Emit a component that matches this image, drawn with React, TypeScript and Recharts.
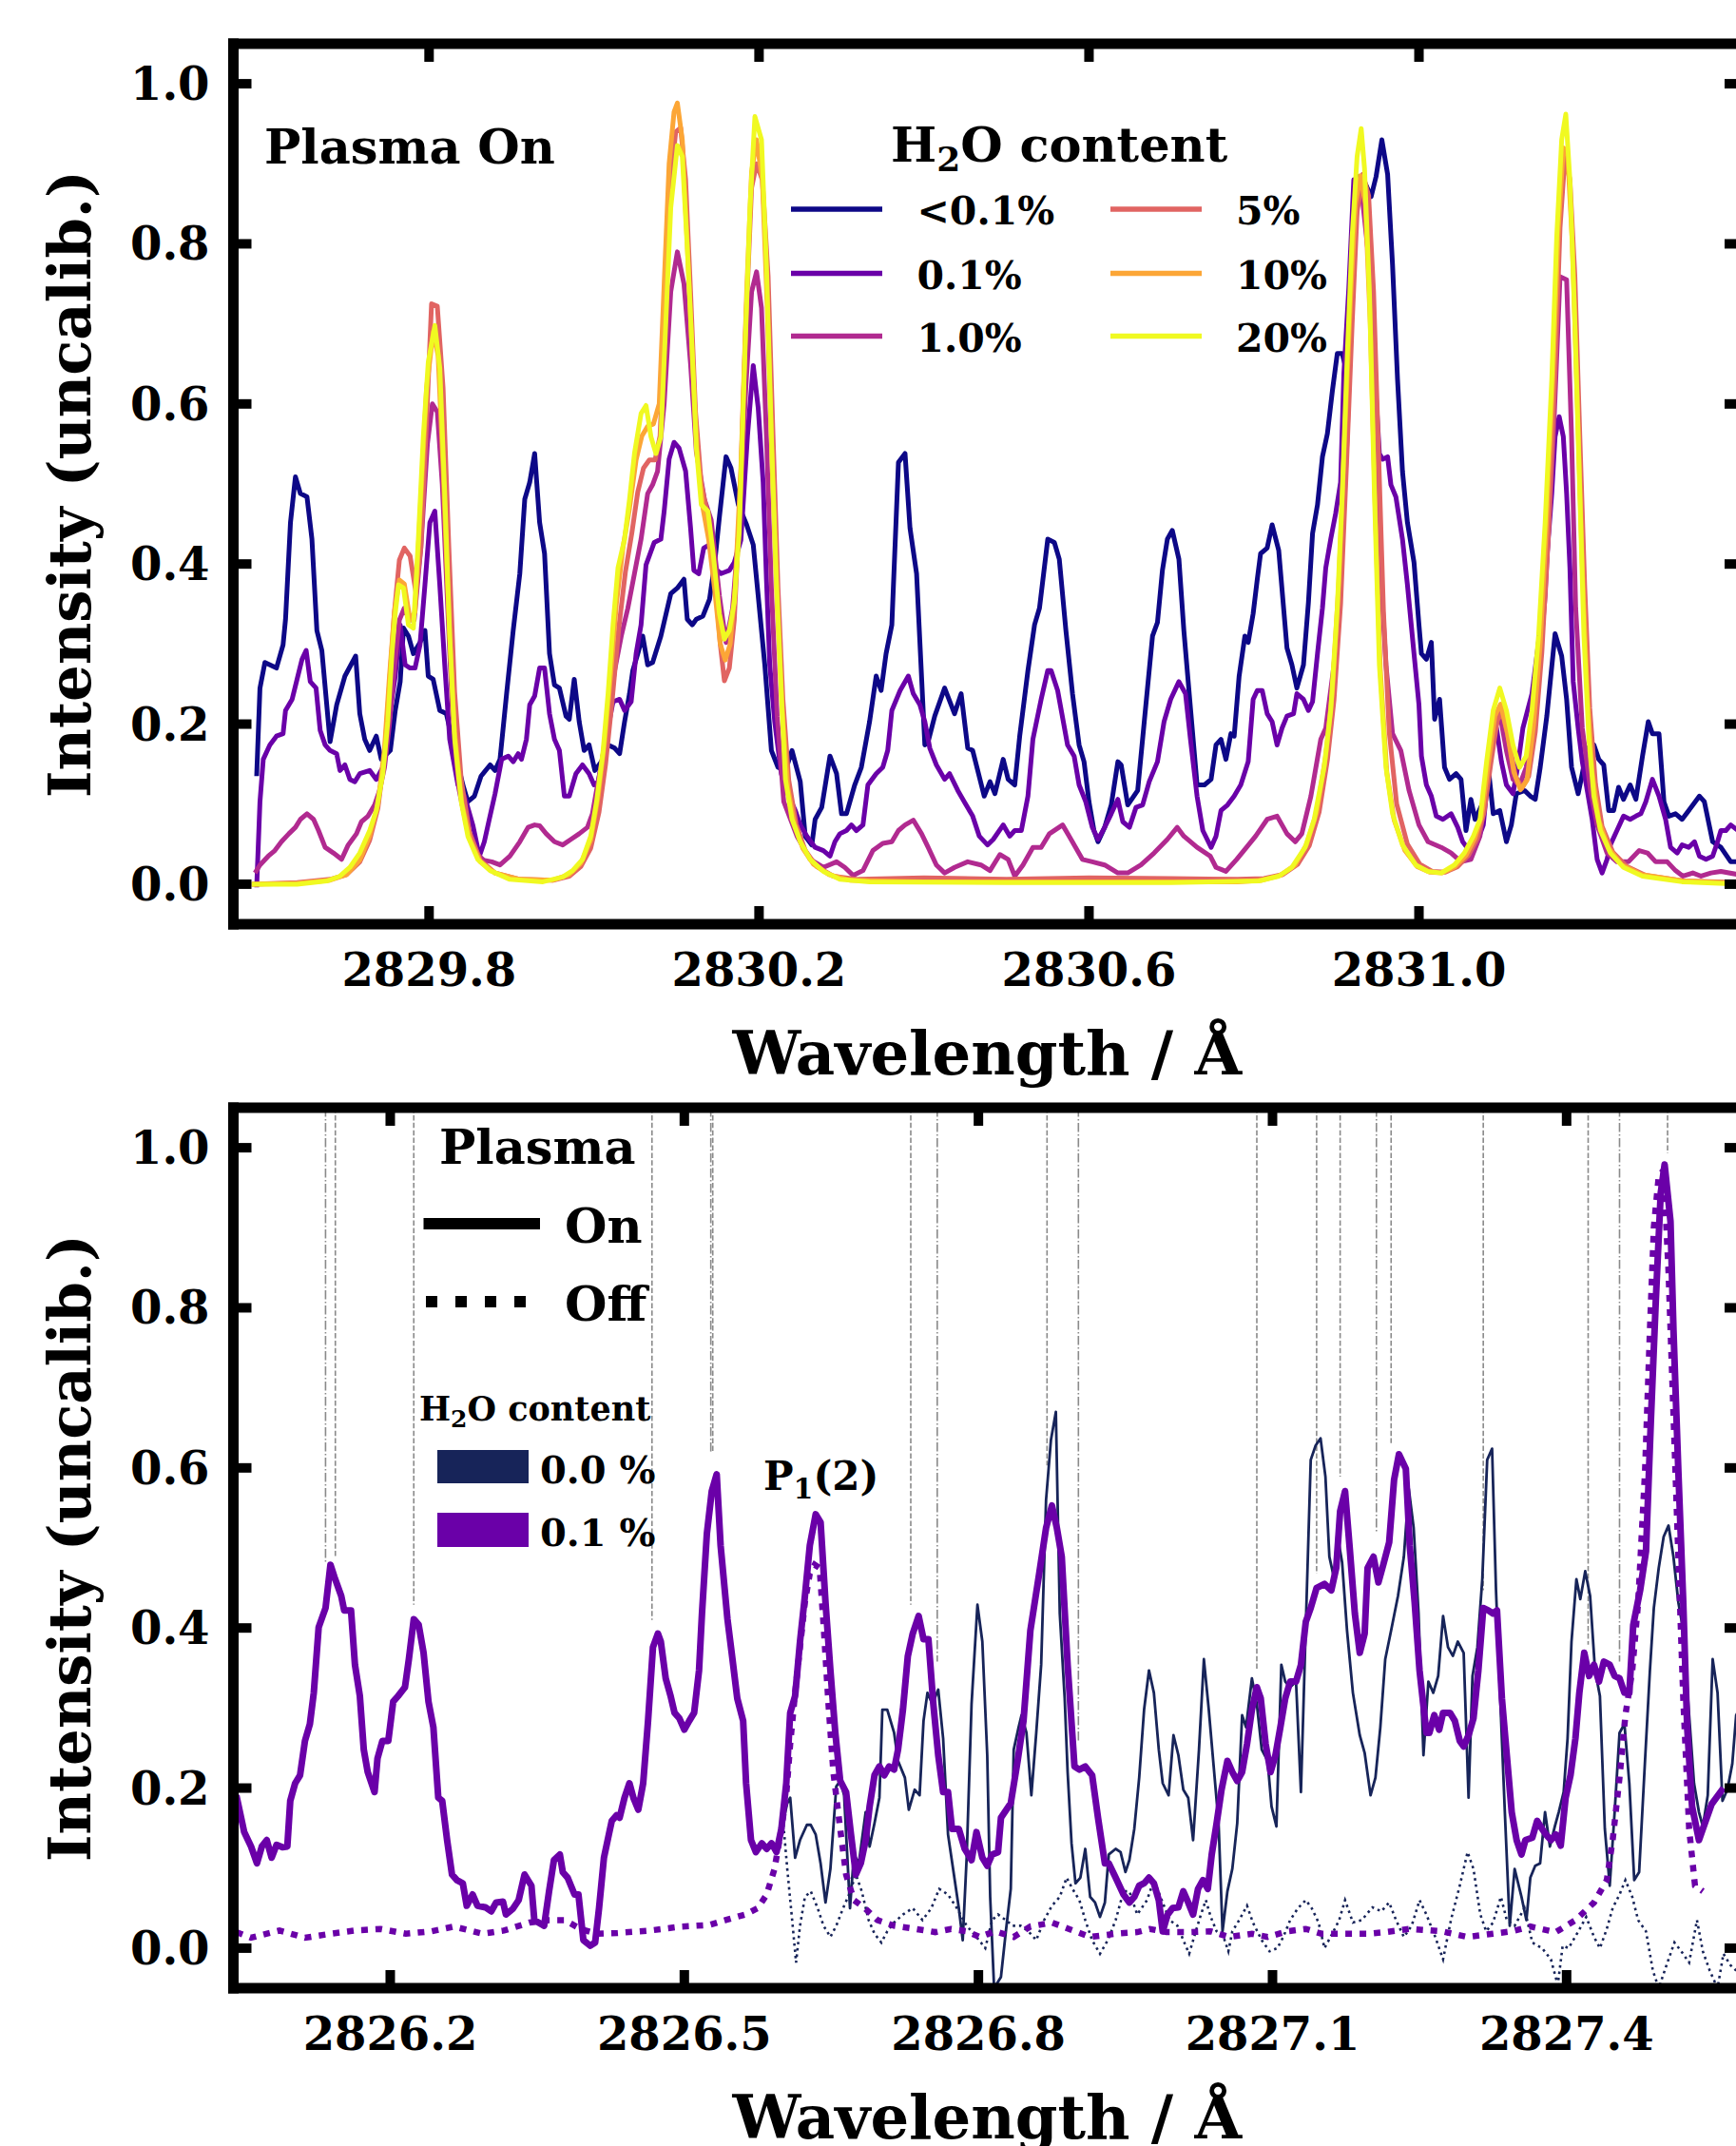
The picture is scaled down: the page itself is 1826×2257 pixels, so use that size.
import React from "react";
import { LineChart, Line, XAxis, YAxis, ReferenceLine, Legend, Customized } from "recharts";

type Pt = [number, number];

// ---------- axes ----------
const topWlTicks = [2829.8, 2830.2, 2830.6, 2831.0];
const bottomWlTicks = [2826.2, 2826.5, 2826.8, 2827.1, 2827.4];
const intensityTicks = [0, 0.2, 0.4, 0.6, 0.8, 1.0];
const TOP_DOMAIN: [number, number] = [2829.5628, 2831.3924];
const BOTTOM_DOMAIN: [number, number] = [2826.04, 2827.5796];
const Y_DOMAIN: [number, number] = [-0.05, 1.05];

// ---------- top panel: plasma on, varying H2O content ----------
const topSeriesNames = ["<0.1%", "0.1%", "1.0%", "5%", "10%", "20%"];
const topColors = ["#0d0887", "#6a00a8", "#b12a90", "#e16462", "#fca636", "#f0f921"];

const onLt01: Pt[] = [
  [2829.591,0.135],[2829.595,0.245],[2829.601,0.277],[2829.615,0.270],[2829.623,0.299],[2829.626,0.331],[2829.632,0.452],[2829.638,0.509],[2829.644,0.488],[2829.652,0.484],[2829.658,0.431],[2829.664,0.317],[2829.670,0.292],[2829.680,0.178],[2829.688,0.224],[2829.698,0.260],[2829.711,0.285],[2829.716,0.213],[2829.722,0.181],[2829.728,0.167],[2829.736,0.185],[2829.742,0.156],[2829.753,0.167],[2829.759,0.217],[2829.765,0.253],[2829.769,0.320],[2829.775,0.310],[2829.781,0.288],[2829.789,0.302],[2829.795,0.317],[2829.799,0.260],[2829.805,0.256],[2829.813,0.217],[2829.821,0.213],[2829.831,0.167],[2829.841,0.124],[2829.847,0.103],[2829.855,0.110],[2829.863,0.135],[2829.874,0.149],[2829.880,0.142],[2829.886,0.156],[2829.894,0.238],[2829.902,0.317],[2829.910,0.388],[2829.916,0.481],[2829.922,0.502],[2829.928,0.538],[2829.934,0.452],[2829.940,0.413],[2829.946,0.288],[2829.952,0.249],[2829.958,0.245],[2829.966,0.210],[2829.970,0.206],[2829.976,0.256],[2829.982,0.203],[2829.988,0.167],[2829.994,0.174],[2830.001,0.142],[2830.009,0.153],[2830.017,0.174],[2830.025,0.170],[2830.031,0.163],[2830.037,0.203],[2830.043,0.238],[2830.047,0.267],[2830.053,0.288],[2830.059,0.310],[2830.065,0.274],[2830.071,0.277],[2830.081,0.310],[2830.093,0.363],[2830.101,0.370],[2830.109,0.381],[2830.113,0.331],[2830.119,0.324],[2830.124,0.331],[2830.132,0.335],[2830.140,0.356],[2830.146,0.399],[2830.152,0.459],[2830.160,0.534],[2830.166,0.520],[2830.175,0.474],
  [2830.185,0.449],[2830.193,0.424],[2830.199,0.360],[2830.207,0.274],[2830.215,0.167],[2830.223,0.146],[2830.232,0.142],[2830.240,0.167],[2830.250,0.128],[2830.256,0.060],[2830.264,0.049],[2830.268,0.081],[2830.276,0.096],[2830.286,0.160],[2830.294,0.138],[2830.300,0.088],[2830.306,0.088],[2830.316,0.124],[2830.324,0.146],[2830.334,0.203],[2830.342,0.260],[2830.348,0.242],[2830.354,0.288],[2830.361,0.324],[2830.369,0.527],[2830.377,0.538],[2830.383,0.445],[2830.391,0.388],[2830.401,0.174],[2830.405,0.178],[2830.413,0.210],[2830.425,0.245],[2830.437,0.213],[2830.445,0.238],[2830.453,0.170],[2830.459,0.167],[2830.473,0.110],[2830.480,0.128],[2830.486,0.113],[2830.496,0.156],[2830.502,0.131],[2830.510,0.124],[2830.516,0.185],[2830.526,0.267],[2830.534,0.324],[2830.540,0.345],[2830.550,0.431],[2830.558,0.427],[2830.564,0.406],[2830.572,0.317],[2830.580,0.238],[2830.588,0.174],[2830.594,0.153],[2830.600,0.103],[2830.606,0.067],[2830.611,0.053],[2830.619,0.071],[2830.627,0.099],[2830.635,0.153],[2830.639,0.149],[2830.647,0.099],[2830.659,0.117],[2830.667,0.203],[2830.677,0.310],[2830.683,0.327],[2830.689,0.392],[2830.695,0.431],[2830.701,0.442],[2830.709,0.406],[2830.715,0.317],[2830.723,0.220],[2830.731,0.124],[2830.740,0.124],[2830.748,0.131],[2830.754,0.174],[2830.760,0.181],[2830.766,0.156],[2830.772,0.188],[2830.776,0.185],[2830.782,0.260],[2830.789,0.310],
  [2830.793,0.302],[2830.799,0.338],[2830.804,0.381],[2830.808,0.413],[2830.816,0.420],[2830.822,0.449],[2830.830,0.417],[2830.840,0.295],[2830.846,0.274],[2830.852,0.245],[2830.860,0.274],[2830.866,0.352],[2830.871,0.438],[2830.877,0.474],[2830.883,0.534],[2830.889,0.563],[2830.895,0.616],[2830.901,0.663],[2830.907,0.663],[2830.913,0.638],[2830.919,0.780],[2830.925,0.884],[2830.931,0.884],[2830.936,0.873],[2830.942,0.859],[2830.948,0.884],[2830.955,0.930],[2830.962,0.887],[2830.968,0.773],[2830.974,0.631],[2830.980,0.516],[2830.986,0.452],[2830.994,0.402],[2831.000,0.324],[2831.003,0.288],[2831.009,0.281],[2831.015,0.302],[2831.019,0.206],[2831.025,0.231],[2831.031,0.146],[2831.037,0.131],[2831.045,0.138],[2831.051,0.131],[2831.057,0.067],[2831.063,0.106],[2831.068,0.081],[2831.078,0.103],[2831.084,0.146],[2831.090,0.088],[2831.098,0.092],[2831.106,0.053],[2831.112,0.074],[2831.118,0.113],[2831.128,0.117],[2831.135,0.110],[2831.141,0.106],[2831.147,0.146],[2831.155,0.210],[2831.165,0.313],[2831.173,0.285],[2831.179,0.231],[2831.185,0.146],[2831.193,0.113],[2831.198,0.138],[2831.204,0.170],[2831.212,0.174],[2831.218,0.156],[2831.224,0.149],[2831.230,0.092],[2831.236,0.092],[2831.242,0.121],[2831.248,0.106],[2831.256,0.124],[2831.263,0.106],[2831.271,0.160],[2831.278,0.203],[2831.283,0.188],[2831.291,0.188],[2831.297,0.103],[2831.303,0.085],[2831.311,0.088],[2831.319,0.081],[2831.330,0.096],[2831.340,0.110],[2831.346,0.103],[2831.356,0.053],[2831.366,0.046],[2831.378,0.028],[2831.392,0.028],
];

const on01: Pt[] = [
  [2829.591,-0.004],[2829.595,0.103],[2829.599,0.156],[2829.607,0.174],[2829.615,0.185],[2829.623,0.188],[2829.626,0.217],[2829.634,0.231],[2829.640,0.256],[2829.646,0.281],[2829.651,0.292],[2829.656,0.253],[2829.663,0.245],[2829.668,0.192],[2829.674,0.174],[2829.680,0.167],[2829.688,0.163],[2829.692,0.142],[2829.698,0.149],[2829.704,0.131],[2829.710,0.128],[2829.716,0.138],[2829.728,0.142],[2829.736,0.131],[2829.744,0.146],[2829.751,0.203],[2829.759,0.260],[2829.765,0.324],[2829.771,0.274],[2829.777,0.270],[2829.783,0.270],[2829.789,0.299],[2829.795,0.374],[2829.801,0.452],[2829.807,0.466],[2829.813,0.374],[2829.819,0.274],[2829.825,0.181],[2829.835,0.124],[2829.843,0.110],[2829.853,0.074],[2829.861,0.035],[2829.867,0.053],[2829.873,0.081],[2829.880,0.113],[2829.888,0.156],[2829.896,0.160],[2829.902,0.153],[2829.908,0.163],[2829.912,0.156],[2829.918,0.181],[2829.922,0.224],[2829.928,0.235],[2829.934,0.270],[2829.940,0.270],[2829.946,0.213],[2829.952,0.181],[2829.958,0.167],[2829.964,0.110],[2829.970,0.110],[2829.978,0.138],[2829.986,0.149],[2829.994,0.138],[2830.000,0.124],[2830.005,0.128],[2830.013,0.174],[2830.023,0.228],[2830.031,0.231],[2830.037,0.217],[2830.045,0.228],[2830.051,0.288],[2830.057,0.324],[2830.063,0.399],[2830.073,0.427],[2830.081,0.431],[2830.085,0.466],[2830.091,0.531],[2830.097,0.552],[2830.103,0.545],[2830.111,0.516],[2830.117,0.445],[2830.121,0.392],[2830.127,0.388],[2830.133,0.420],[2830.140,0.424],[2830.146,0.395],[2830.154,0.388],[2830.164,0.392],[2830.170,0.402],[2830.178,0.430],[2830.186,0.560],[2830.193,0.648],[2830.199,0.595],[2830.205,0.502],[2830.209,0.381],[2830.213,0.274],[2830.219,0.203],[2830.227,0.138],[2830.236,0.110],[2830.244,0.092],[2830.250,0.074],[2830.258,0.060],[2830.268,0.046],[2830.278,0.042],[2830.286,0.035],[2830.292,0.053],[2830.298,0.063],[2830.306,0.067],[2830.312,0.074],[2830.318,0.067],[2830.326,0.074],[2830.332,0.124],[2830.342,0.138],[2830.350,0.146],[2830.356,0.167],[2830.361,0.217],[2830.371,0.242],[2830.381,0.260],[2830.387,0.238],[2830.395,0.224],[2830.401,0.203],[2830.407,0.170],[2830.415,0.149],[2830.425,0.131],[2830.431,0.138],[2830.441,0.117],[2830.451,0.099],[2830.459,0.085],[2830.467,0.060],[2830.477,0.049],[2830.484,0.056],[2830.496,0.074],[2830.504,0.060],[2830.510,0.067],[2830.518,0.067],[2830.526,0.110],[2830.532,0.181],[2830.542,0.231],[2830.550,0.267],[2830.554,0.267],[2830.562,0.242],[2830.574,0.174],[2830.582,0.160],[2830.588,0.124],[2830.596,0.103],[2830.604,0.071],[2830.611,0.056],[2830.619,0.071],[2830.627,0.088],[2830.635,0.106],[2830.641,0.078],[2830.649,0.071],[2830.657,0.096],[2830.665,0.099],[2830.673,0.128],[2830.683,0.153],[2830.691,0.203],[2830.699,0.231],[2830.709,0.253],[2830.717,0.238],[2830.723,0.181],[2830.731,0.110],[2830.738,0.067],[2830.748,0.046],[2830.754,0.060],[2830.760,0.092],[2830.768,0.099],[2830.776,0.110],[2830.784,0.124],[2830.793,0.153],[2830.799,0.231],[2830.804,0.242],[2830.810,0.242],[2830.816,0.213],[2830.822,0.203],[2830.828,0.174],[2830.834,0.195],[2830.840,0.210],[2830.848,0.213],[2830.852,0.238],[2830.860,0.231],[2830.866,0.217],[2830.871,0.228],[2830.877,0.288],[2830.883,0.345],[2830.887,0.395],[2830.893,0.431],[2830.899,0.463],[2830.905,0.502],[2830.909,0.638],[2830.915,0.745],[2830.921,0.880],[2830.929,0.880],[2830.934,0.880],[2830.940,0.760],[2830.946,0.645],[2830.952,0.538],[2830.956,0.531],[2830.962,0.534],[2830.966,0.499],[2830.972,0.484],[2830.980,0.431],[2830.986,0.374],[2830.994,0.288],[2831.000,0.224],[2831.003,0.160],[2831.009,0.124],[2831.015,0.110],[2831.021,0.085],[2831.029,0.081],[2831.039,0.088],[2831.047,0.071],[2831.053,0.053],[2831.061,0.042],[2831.068,0.046],[2831.078,0.074],[2831.086,0.160],[2831.094,0.195],[2831.100,0.153],[2831.106,0.124],[2831.114,0.113],[2831.120,0.149],[2831.126,0.195],[2831.137,0.238],[2831.145,0.302],[2831.153,0.381],[2831.161,0.488],[2831.165,0.559],[2831.170,0.584],[2831.175,0.559],[2831.179,0.488],[2831.183,0.395],[2831.187,0.253],[2831.193,0.195],[2831.198,0.153],[2831.204,0.117],[2831.210,0.081],[2831.216,0.031],[2831.222,0.014],[2831.228,0.031],[2831.232,0.049],[2831.240,0.067],[2831.248,0.085],[2831.256,0.081],[2831.263,0.085],[2831.269,0.088],[2831.275,0.103],[2831.283,0.131],[2831.291,0.110],[2831.299,0.081],[2831.305,0.046],[2831.313,0.039],[2831.319,0.049],[2831.327,0.046],[2831.334,0.053],[2831.340,0.035],[2831.348,0.031],[2831.356,0.035],[2831.362,0.053],[2831.366,0.067],[2831.372,0.067],[2831.378,0.074],[2831.392,0.063],
];

const on10: Pt[] = [
  [2829.589,0.014],[2829.595,0.024],[2829.605,0.035],[2829.613,0.042],[2829.621,0.053],[2829.630,0.063],[2829.638,0.071],[2829.644,0.081],[2829.652,0.088],[2829.660,0.081],[2829.666,0.067],[2829.674,0.046],[2829.684,0.039],[2829.694,0.031],[2829.702,0.049],[2829.712,0.063],[2829.718,0.078],[2829.726,0.085],[2829.734,0.099],[2829.740,0.117],[2829.746,0.146],[2829.752,0.200],[2829.758,0.270],[2829.764,0.330],[2829.770,0.345],[2829.776,0.330],[2829.782,0.330],[2829.790,0.420],[2829.798,0.550],[2829.804,0.600],[2829.810,0.590],[2829.816,0.500],[2829.822,0.360],[2829.828,0.220],[2829.836,0.120],[2829.846,0.070],[2829.856,0.040],[2829.866,0.030],[2829.876,0.028],[2829.886,0.024],[2829.898,0.035],[2829.910,0.053],[2829.920,0.071],[2829.928,0.074],[2829.934,0.073],[2829.942,0.063],[2829.952,0.053],[2829.962,0.049],[2829.972,0.056],[2829.982,0.063],[2829.992,0.071],[2829.998,0.088],[2830.003,0.117],[2830.011,0.160],[2830.017,0.210],[2830.025,0.267],[2830.033,0.310],[2830.041,0.345],[2830.049,0.388],[2830.057,0.431],[2830.065,0.488],[2830.071,0.499],[2830.077,0.516],[2830.085,0.600],[2830.093,0.740],[2830.101,0.790],[2830.109,0.750],[2830.117,0.650],[2830.124,0.540],[2830.134,0.480],[2830.142,0.455],[2830.152,0.360],[2830.160,0.302],[2830.168,0.345],[2830.176,0.450],[2830.184,0.620],[2830.191,0.740],[2830.197,0.765],[2830.203,0.720],[2830.209,0.560],[2830.215,0.370],[2830.222,0.210],[2830.230,0.103],[2830.246,0.060],[2830.262,0.031],[2830.278,0.021],[2830.294,0.028],[2830.304,0.021],[2830.314,0.011],[2830.326,0.017],[2830.338,0.042],[2830.350,0.051],[2830.361,0.053],[2830.369,0.067],[2830.377,0.074],[2830.387,0.080],[2830.397,0.063],[2830.405,0.046],[2830.415,0.024],[2830.425,0.014],[2830.437,0.021],[2830.453,0.028],[2830.469,0.024],[2830.480,0.017],[2830.492,0.037],[2830.502,0.031],[2830.510,0.010],[2830.520,0.024],[2830.532,0.046],[2830.542,0.046],[2830.552,0.063],[2830.568,0.074],[2830.576,0.060],[2830.592,0.031],[2830.604,0.028],[2830.619,0.024],[2830.635,0.014],[2830.647,0.014],[2830.663,0.024],[2830.679,0.039],[2830.695,0.056],[2830.707,0.071],[2830.715,0.060],[2830.731,0.046],[2830.747,0.035],[2830.754,0.021],[2830.766,0.016],[2830.779,0.031],[2830.791,0.046],[2830.802,0.060],[2830.816,0.081],[2830.828,0.085],[2830.840,0.063],[2830.850,0.053],[2830.858,0.063],[2830.869,0.110],[2830.881,0.181],[2830.887,0.195],[2830.897,0.274],[2830.905,0.381],[2830.913,0.559],[2830.921,0.809],[2830.929,0.880],[2830.940,0.773],[2830.948,0.488],[2830.960,0.274],[2830.968,0.188],[2830.978,0.167],[2830.988,0.117],[2831.000,0.074],[2831.011,0.053],[2831.027,0.046],[2831.039,0.039],[2831.051,0.028],[2831.063,0.031],[2831.074,0.060],[2831.082,0.124],[2831.090,0.188],[2831.098,0.213],[2831.106,0.167],[2831.114,0.131],[2831.122,0.124],[2831.130,0.146],[2831.141,0.217],[2831.153,0.360],[2831.163,0.559],[2831.171,0.759],[2831.179,0.755],[2831.185,0.559],[2831.190,0.345],[2831.198,0.195],[2831.208,0.117],[2831.216,0.074],[2831.228,0.039],[2831.240,0.028],[2831.254,0.028],[2831.267,0.042],[2831.277,0.039],[2831.287,0.028],[2831.301,0.028],[2831.311,0.017],[2831.320,0.010],[2831.332,0.014],[2831.342,0.010],[2831.354,0.014],[2831.366,0.016],[2831.392,0.011],
];

const on5: Pt[] = [
  [2829.585,0.000],[2829.640,0.002],[2829.680,0.006],[2829.700,0.012],[2829.716,0.028],[2829.728,0.055],[2829.738,0.095],[2829.746,0.160],[2829.752,0.250],[2829.758,0.340],[2829.764,0.405],[2829.770,0.420],[2829.777,0.410],[2829.784,0.365],[2829.790,0.420],[2829.797,0.580],[2829.803,0.725],[2829.810,0.722],[2829.817,0.620],[2829.824,0.420],[2829.831,0.240],[2829.839,0.130],[2829.849,0.065],[2829.862,0.030],[2829.880,0.014],[2829.910,0.006],[2829.950,0.005],[2829.970,0.010],[2829.984,0.022],[2829.996,0.045],[2830.006,0.090],[2830.014,0.150],[2830.022,0.230],[2830.030,0.320],[2830.038,0.390],[2830.046,0.440],[2830.053,0.490],[2830.060,0.520],[2830.067,0.530],[2830.074,0.530],[2830.080,0.560],[2830.086,0.700],[2830.093,0.880],[2830.099,0.940],[2830.105,0.945],[2830.111,0.880],[2830.117,0.740],[2830.123,0.590],[2830.130,0.500],[2830.138,0.460],[2830.146,0.390],[2830.153,0.300],[2830.158,0.254],[2830.164,0.270],[2830.170,0.330],[2830.177,0.480],[2830.184,0.700],[2830.191,0.870],[2830.197,0.900],[2830.204,0.880],[2830.211,0.760],[2830.217,0.560],[2830.223,0.370],[2830.229,0.230],[2830.236,0.130],[2830.245,0.075],[2830.256,0.042],[2830.270,0.022],[2830.290,0.010],[2830.320,0.006],[2830.400,0.008],[2830.500,0.006],[2830.600,0.008],[2830.700,0.007],[2830.780,0.006],[2830.812,0.007],[2830.835,0.012],[2830.853,0.025],[2830.867,0.048],[2830.879,0.090],[2830.889,0.155],[2830.897,0.230],[2830.905,0.350],[2830.912,0.520],[2830.919,0.700],[2830.925,0.840],[2830.932,0.887],[2830.939,0.860],[2830.945,0.740],[2830.951,0.540],[2830.957,0.340],[2830.964,0.190],[2830.973,0.100],[2830.986,0.050],[2831.001,0.025],[2831.016,0.016],[2831.032,0.015],[2831.047,0.022],[2831.060,0.036],[2831.071,0.058],[2831.079,0.090],[2831.087,0.150],[2831.095,0.205],[2831.101,0.215],[2831.109,0.180],[2831.117,0.135],[2831.125,0.120],[2831.133,0.135],[2831.141,0.190],[2831.149,0.290],[2831.157,0.440],[2831.165,0.640],[2831.171,0.820],[2831.177,0.909],[2831.183,0.880],[2831.189,0.760],[2831.195,0.560],[2831.201,0.370],[2831.207,0.220],[2831.214,0.125],[2831.222,0.072],[2831.235,0.040],[2831.252,0.022],[2831.275,0.011],[2831.320,0.004],[2831.392,0.002],
];

const on10pct: Pt[] = [
  [2829.585,0.000],[2829.640,0.001],[2829.680,0.005],[2829.700,0.012],[2829.716,0.030],[2829.728,0.060],[2829.738,0.100],[2829.746,0.170],[2829.752,0.260],[2829.758,0.340],[2829.764,0.380],[2829.770,0.375],[2829.777,0.330],[2829.783,0.340],[2829.790,0.480],[2829.797,0.620],[2829.805,0.690],[2829.811,0.660],[2829.817,0.520],[2829.824,0.330],[2829.831,0.190],[2829.840,0.100],[2829.850,0.055],[2829.862,0.028],[2829.880,0.014],[2829.910,0.006],[2829.950,0.005],[2829.970,0.012],[2829.984,0.026],[2829.996,0.055],[2830.005,0.110],[2830.013,0.180],[2830.020,0.260],[2830.027,0.350],[2830.035,0.420],[2830.043,0.470],[2830.051,0.530],[2830.058,0.560],[2830.065,0.572],[2830.072,0.575],[2830.079,0.600],[2830.085,0.750],[2830.091,0.900],[2830.097,0.965],[2830.101,0.976],[2830.107,0.930],[2830.113,0.800],[2830.119,0.660],[2830.125,0.540],[2830.132,0.470],[2830.139,0.430],[2830.146,0.370],[2830.153,0.300],[2830.159,0.280],[2830.165,0.300],[2830.171,0.370],[2830.178,0.520],[2830.185,0.740],[2830.191,0.890],[2830.197,0.930],[2830.204,0.880],[2830.210,0.720],[2830.216,0.520],[2830.222,0.350],[2830.228,0.220],[2830.235,0.120],[2830.243,0.075],[2830.253,0.045],[2830.266,0.025],[2830.285,0.012],[2830.310,0.005],[2830.400,0.003],[2830.600,0.003],[2830.780,0.003],[2830.810,0.005],[2830.832,0.011],[2830.850,0.024],[2830.864,0.050],[2830.876,0.090],[2830.887,0.160],[2830.895,0.240],[2830.903,0.380],[2830.910,0.560],[2830.917,0.730],[2830.923,0.850],[2830.929,0.885],[2830.935,0.850],[2830.941,0.700],[2830.947,0.470],[2830.953,0.270],[2830.961,0.140],[2830.970,0.080],[2830.983,0.042],[2830.998,0.022],[2831.013,0.015],[2831.028,0.014],[2831.044,0.022],[2831.057,0.036],[2831.068,0.058],[2831.076,0.085],[2831.084,0.150],[2831.092,0.210],[2831.099,0.225],[2831.107,0.190],[2831.115,0.140],[2831.123,0.118],[2831.131,0.130],[2831.139,0.200],[2831.147,0.300],[2831.155,0.460],[2831.163,0.650],[2831.169,0.820],[2831.175,0.920],[2831.180,0.915],[2831.186,0.800],[2831.192,0.600],[2831.198,0.400],[2831.204,0.240],[2831.210,0.140],[2831.218,0.080],[2831.230,0.045],[2831.246,0.024],[2831.270,0.012],[2831.320,0.004],[2831.392,0.001],
];

const on20: Pt[] = [
  [2829.585,0.000],[2829.640,0.000],[2829.676,0.004],[2829.692,0.010],[2829.704,0.021],[2829.716,0.039],[2829.728,0.067],[2829.736,0.092],[2829.744,0.138],[2829.750,0.203],[2829.755,0.288],[2829.759,0.338],[2829.763,0.374],[2829.769,0.370],[2829.775,0.324],[2829.781,0.320],[2829.787,0.431],[2829.793,0.559],[2829.799,0.652],[2829.807,0.698],[2829.813,0.645],[2829.819,0.488],[2829.825,0.310],[2829.831,0.181],[2829.839,0.103],[2829.847,0.060],[2829.859,0.031],[2829.874,0.017],[2829.898,0.006],[2829.938,0.003],[2829.962,0.009],[2829.974,0.017],[2829.986,0.031],[2829.996,0.060],[2830.003,0.103],[2830.011,0.167],[2830.017,0.238],[2830.023,0.324],[2830.029,0.395],[2830.037,0.431],[2830.043,0.481],[2830.049,0.538],[2830.057,0.588],[2830.063,0.598],[2830.069,0.559],[2830.075,0.538],[2830.081,0.559],[2830.087,0.702],[2830.093,0.845],[2830.101,0.923],[2830.107,0.909],[2830.113,0.795],[2830.119,0.666],[2830.124,0.545],[2830.130,0.474],[2830.138,0.466],[2830.144,0.417],[2830.152,0.338],[2830.158,0.306],[2830.164,0.317],[2830.170,0.352],[2830.176,0.440],[2830.183,0.666],[2830.189,0.845],[2830.195,0.959],[2830.203,0.930],[2830.209,0.773],[2830.215,0.559],[2830.221,0.381],[2830.227,0.238],[2830.232,0.131],[2830.240,0.081],[2830.250,0.053],[2830.262,0.031],[2830.278,0.016],[2830.298,0.006],[2830.334,0.003],[2830.500,0.002],[2830.700,0.002],[2830.806,0.004],[2830.830,0.010],[2830.846,0.021],[2830.862,0.046],[2830.873,0.081],[2830.885,0.146],[2830.893,0.217],[2830.901,0.345],[2830.907,0.488],[2830.913,0.659],[2830.919,0.809],[2830.925,0.909],[2830.930,0.944],[2830.934,0.894],[2830.940,0.738],[2830.946,0.488],[2830.952,0.274],[2830.960,0.146],[2830.968,0.088],[2830.980,0.049],[2830.996,0.024],[2831.011,0.016],[2831.027,0.014],[2831.043,0.024],[2831.055,0.039],[2831.066,0.060],[2831.074,0.081],[2831.082,0.153],[2831.090,0.217],[2831.098,0.245],[2831.106,0.217],[2831.114,0.174],[2831.122,0.146],[2831.130,0.160],[2831.137,0.217],[2831.145,0.310],[2831.153,0.452],[2831.161,0.631],[2831.167,0.809],[2831.173,0.930],[2831.178,0.962],[2831.183,0.880],[2831.189,0.702],[2831.195,0.488],[2831.200,0.310],[2831.206,0.181],[2831.212,0.110],[2831.220,0.067],[2831.232,0.039],[2831.248,0.021],[2831.271,0.010],[2831.319,0.003],[2831.392,0.000],
];

const topSeries = [onLt01, on01, on10, on5, on10pct, on20];

// ---------- bottom panel: plasma on/off, 0.0 % and 0.1 % H2O ----------
const bottomColors = { dry: "#172459", wet: "#6a00a8" };

const offDry: Pt[] = [
  [2826.600,0.170],[2826.605,0.099],[2826.610,0.035],[2826.614,-0.018],[2826.618,0.028],[2826.623,0.064],[2826.629,0.071],[2826.636,0.050],[2826.642,0.028],[2826.649,0.014],[2826.655,0.028],[2826.662,0.050],[2826.668,0.067],[2826.675,0.092],[2826.681,0.071],[2826.688,0.035],[2826.694,0.018],[2826.701,0.007],[2826.707,0.021],[2826.714,0.032],[2826.723,0.042],[2826.733,0.050],[2826.743,0.035],[2826.752,0.050],[2826.760,0.074],[2826.769,0.067],[2826.778,0.050],[2826.788,0.028],[2826.798,0.014],[2826.807,0.000],[2826.814,0.035],[2826.820,0.042],[2826.828,0.035],[2826.835,0.028],[2826.843,0.028],[2826.851,0.021],[2826.859,0.010],[2826.867,0.035],[2826.875,0.053],[2826.883,0.064],[2826.890,0.088],[2826.896,0.074],[2826.903,0.060],[2826.909,0.035],[2826.916,0.010],[2826.924,-0.007],[2826.932,0.010],[2826.940,0.035],[2826.948,0.071],[2826.954,0.071],[2826.962,0.042],[2826.972,0.060],[2826.979,0.085],[2826.987,0.060],[2826.995,0.035],[2827.003,0.028],[2827.009,0.010],[2827.015,-0.007],[2827.021,0.018],[2827.027,0.042],[2827.032,0.060],[2827.037,0.039],[2827.043,0.021],[2827.050,0.014],[2827.055,-0.004],[2827.059,0.021],[2827.066,0.035],[2827.074,0.053],[2827.080,0.032],[2827.089,0.010],[2827.097,-0.004],[2827.105,0.000],[2827.111,0.014],[2827.118,0.035],[2827.126,0.050],[2827.134,0.060],[2827.140,0.050],[2827.147,0.032],[2827.153,0.000],[2827.161,0.018],[2827.168,0.035],[2827.174,0.060],[2827.182,0.032],[2827.191,0.035],[2827.202,0.051],[2827.211,0.046],[2827.219,0.057],[2827.226,0.035],[2827.234,0.014],[2827.242,0.028],[2827.250,0.060],[2827.257,0.042],[2827.266,0.014],[2827.274,-0.014],[2827.282,0.035],[2827.291,0.078],[2827.299,0.120],[2827.305,0.099],[2827.312,0.042],[2827.318,0.021],[2827.325,0.032],[2827.333,0.064],[2827.339,0.035],[2827.347,0.028],[2827.357,0.050],[2827.365,0.007],[2827.375,0.000],[2827.384,-0.014],[2827.391,-0.046],[2827.396,0.003],[2827.402,0.000],[2827.412,0.021],[2827.420,0.039],[2827.428,0.014],[2827.434,0.000],[2827.441,0.024],[2827.447,0.050],[2827.454,0.067],[2827.460,0.085],[2827.467,0.064],[2827.473,0.035],[2827.481,0.021],[2827.488,-0.028],[2827.494,-0.050],[2827.502,-0.021],[2827.510,0.007],[2827.517,-0.004],[2827.525,-0.018],[2827.533,0.035],[2827.539,-0.004],[2827.546,-0.028],[2827.554,-0.050],[2827.560,-0.007],[2827.567,-0.021],[2827.573,-0.028],
];

const onDry: Pt[] = [
  [2826.601,0.159],[2826.605,0.181],[2826.608,0.188],[2826.613,0.113],[2826.618,0.135],[2826.625,0.154],[2826.629,0.154],[2826.634,0.142],[2826.639,0.106],[2826.644,0.057],[2826.649,0.099],[2826.655,0.202],[2826.659,0.209],[2826.663,0.191],[2826.669,0.050],[2826.673,0.117],[2826.678,0.106],[2826.685,0.170],[2826.689,0.127],[2826.694,0.156],[2826.699,0.188],[2826.702,0.298],[2826.707,0.298],[2826.714,0.269],[2826.718,0.234],[2826.725,0.213],[2826.729,0.173],[2826.735,0.198],[2826.740,0.191],[2826.744,0.284],[2826.748,0.319],[2826.753,0.305],[2826.759,0.323],[2826.764,0.262],[2826.769,0.142],[2826.775,0.092],[2826.780,0.050],[2826.784,0.010],[2826.788,0.113],[2826.793,0.305],[2826.799,0.429],[2826.804,0.383],[2826.809,0.241],[2826.812,0.064],[2826.816,-0.050],[2826.823,-0.036],[2826.828,0.021],[2826.833,0.074],[2826.836,0.248],[2826.841,0.276],[2826.844,0.291],[2826.849,0.269],[2826.854,0.191],[2826.859,0.269],[2826.864,0.354],[2826.869,0.560],[2826.874,0.635],[2826.879,0.670],[2826.883,0.418],[2826.888,0.312],[2826.891,0.220],[2826.895,0.131],[2826.899,0.081],[2826.904,0.088],[2826.909,0.124],[2826.914,0.064],[2826.919,0.057],[2826.924,0.039],[2826.929,0.057],[2826.933,0.117],[2826.940,0.124],[2826.945,0.120],[2826.950,0.095],[2826.954,0.110],[2826.959,0.149],[2826.964,0.213],[2826.969,0.298],[2826.974,0.347],[2826.979,0.319],[2826.984,0.248],[2826.988,0.206],[2826.994,0.191],[2826.999,0.266],[2827.004,0.241],[2827.009,0.198],[2827.014,0.188],[2827.019,0.135],[2827.025,0.248],[2827.030,0.361],[2827.035,0.298],[2827.040,0.227],[2827.045,0.156],[2827.049,0.021],[2827.054,0.071],[2827.059,0.099],[2827.064,0.156],[2827.069,0.291],[2827.073,0.276],[2827.079,0.337],[2827.084,0.305],[2827.089,0.248],[2827.095,0.234],[2827.099,0.177],[2827.104,0.152],[2827.109,0.354],[2827.113,0.333],[2827.118,0.326],[2827.124,0.333],[2827.129,0.195],[2827.134,0.404],[2827.139,0.610],[2827.144,0.628],[2827.149,0.637],[2827.154,0.589],[2827.158,0.489],[2827.163,0.461],[2827.166,0.518],[2827.171,0.482],[2827.176,0.397],[2827.182,0.319],[2827.189,0.266],[2827.194,0.244],[2827.200,0.191],[2827.205,0.213],[2827.210,0.276],[2827.215,0.361],[2827.221,0.397],[2827.228,0.440],[2827.234,0.489],[2827.239,0.574],[2827.244,0.525],[2827.249,0.418],[2827.254,0.241],[2827.259,0.333],[2827.264,0.319],[2827.269,0.340],[2827.274,0.415],[2827.279,0.376],[2827.284,0.365],[2827.289,0.383],[2827.295,0.369],[2827.300,0.188],[2827.304,0.340],[2827.309,0.376],[2827.314,0.461],[2827.319,0.610],[2827.324,0.624],[2827.328,0.447],[2827.333,0.291],[2827.337,0.170],[2827.342,0.028],[2827.347,0.099],[2827.354,0.064],[2827.359,0.035],[2827.363,0.088],[2827.368,0.103],[2827.373,0.106],[2827.378,0.170],[2827.383,0.127],[2827.388,0.152],[2827.392,0.170],[2827.397,0.195],[2827.401,0.262],[2827.405,0.383],[2827.410,0.461],[2827.414,0.436],[2827.419,0.471],[2827.424,0.440],[2827.429,0.347],[2827.434,0.315],[2827.439,0.149],[2827.444,0.078],[2827.449,0.170],[2827.454,0.269],[2827.459,0.280],[2827.464,0.206],[2827.469,0.085],[2827.474,0.095],[2827.480,0.234],[2827.485,0.347],[2827.489,0.425],[2827.494,0.475],[2827.499,0.514],[2827.504,0.528],[2827.509,0.489],[2827.514,0.432],[2827.519,0.397],[2827.525,0.291],[2827.530,0.206],[2827.535,0.170],[2827.539,0.152],[2827.544,0.191],[2827.549,0.361],[2827.554,0.319],[2827.559,0.184],[2827.564,0.198],[2827.569,0.230],[2827.573,0.291],[2827.585,0.320],
];

const offWet: Pt[] = [
  [2826.043,0.020],[2826.058,0.013],[2826.087,0.022],[2826.113,0.013],[2826.139,0.018],[2826.164,0.022],[2826.190,0.024],[2826.216,0.018],[2826.242,0.021],[2826.265,0.027],[2826.294,0.018],[2826.316,0.022],[2826.342,0.032],[2826.362,0.035],[2826.378,0.035],[2826.394,0.024],[2826.410,0.018],[2826.432,0.019],[2826.465,0.022],[2826.497,0.027],[2826.526,0.029],[2826.542,0.035],[2826.562,0.042],[2826.575,0.050],[2826.584,0.067],[2826.592,0.099],[2826.599,0.149],[2826.604,0.191],[2826.608,0.255],[2826.613,0.319],[2826.618,0.376],[2826.623,0.432],[2826.628,0.468],[2826.633,0.479],[2826.638,0.475],[2826.642,0.404],[2826.647,0.305],[2826.652,0.220],[2826.659,0.149],[2826.665,0.092],[2826.673,0.060],[2826.684,0.050],[2826.697,0.035],[2826.714,0.028],[2826.736,0.024],[2826.756,0.020],[2826.772,0.024],[2826.788,0.021],[2826.801,0.014],[2826.817,0.021],[2826.836,0.014],[2826.853,0.027],[2826.875,0.032],[2826.901,0.020],[2826.914,0.014],[2826.940,0.018],[2826.962,0.020],[2826.975,0.024],[2826.992,0.020],[2827.017,0.020],[2827.037,0.021],[2827.056,0.014],[2827.079,0.018],[2827.095,0.014],[2827.115,0.021],[2827.134,0.024],[2827.150,0.018],[2827.176,0.018],[2827.198,0.018],[2827.215,0.020],[2827.240,0.024],[2827.273,0.021],[2827.299,0.014],[2827.325,0.018],[2827.344,0.021],[2827.363,0.027],[2827.389,0.020],[2827.409,0.035],[2827.428,0.057],[2827.441,0.085],[2827.447,0.135],[2827.454,0.213],[2827.460,0.291],[2827.467,0.347],[2827.473,0.432],[2827.480,0.596],[2827.485,0.773],[2827.489,0.901],[2827.494,0.965],[2827.499,0.972],[2827.504,0.844],[2827.509,0.667],[2827.514,0.489],[2827.519,0.312],[2827.525,0.149],[2827.531,0.078],[2827.539,0.071],
];

const onWet: Pt[] = [
  [2826.043,0.191],[2826.051,0.145],[2826.058,0.127],[2826.064,0.106],[2826.069,0.127],[2826.074,0.135],[2826.079,0.113],[2826.084,0.129],[2826.090,0.126],[2826.095,0.127],[2826.098,0.184],[2826.103,0.206],[2826.108,0.216],[2826.113,0.259],[2826.118,0.280],[2826.122,0.319],[2826.127,0.401],[2826.134,0.425],[2826.139,0.479],[2826.143,0.464],[2826.150,0.440],[2826.153,0.422],[2826.160,0.422],[2826.164,0.354],[2826.169,0.315],[2826.173,0.248],[2826.177,0.220],[2826.184,0.195],[2826.187,0.237],[2826.192,0.259],[2826.198,0.259],[2826.203,0.308],[2826.208,0.315],[2826.215,0.326],[2826.219,0.361],[2826.224,0.411],[2826.229,0.404],[2826.234,0.369],[2826.239,0.308],[2826.244,0.276],[2826.249,0.188],[2826.253,0.184],[2826.258,0.135],[2826.263,0.092],[2826.268,0.085],[2826.274,0.081],[2826.278,0.053],[2826.284,0.067],[2826.289,0.053],[2826.297,0.051],[2826.303,0.046],[2826.308,0.057],[2826.315,0.058],[2826.318,0.042],[2826.325,0.049],[2826.331,0.060],[2826.337,0.092],[2826.344,0.078],[2826.347,0.035],[2826.357,0.028],[2826.362,0.071],[2826.367,0.110],[2826.373,0.117],[2826.376,0.095],[2826.381,0.088],[2826.388,0.067],[2826.392,0.067],[2826.397,0.010],[2826.404,0.003],[2826.409,0.007],[2826.413,0.050],[2826.418,0.113],[2826.423,0.142],[2826.426,0.159],[2826.431,0.166],[2826.434,0.163],[2826.439,0.188],[2826.444,0.206],
  [2826.448,0.188],[2826.453,0.173],[2826.458,0.206],[2826.463,0.284],[2826.468,0.376],[2826.473,0.393],[2826.476,0.383],[2826.481,0.337],[2826.486,0.315],[2826.490,0.294],[2826.495,0.287],[2826.500,0.273],[2826.505,0.284],[2826.510,0.294],[2826.515,0.347],[2826.518,0.418],[2826.523,0.518],[2826.528,0.571],[2826.533,0.592],[2826.537,0.503],[2826.544,0.411],[2826.549,0.362],[2826.554,0.312],[2826.560,0.284],[2826.563,0.206],[2826.568,0.135],[2826.573,0.120],[2826.579,0.131],[2826.584,0.124],[2826.589,0.131],[2826.594,0.120],[2826.599,0.149],[2826.604,0.206],[2826.608,0.294],[2826.613,0.315],[2826.618,0.383],[2826.623,0.440],[2826.628,0.503],[2826.634,0.542],[2826.639,0.532],[2826.644,0.432],[2826.649,0.347],[2826.654,0.269],[2826.659,0.209],[2826.665,0.195],[2826.670,0.142],[2826.675,0.092],[2826.680,0.106],[2826.685,0.135],[2826.689,0.177],[2826.694,0.216],[2826.699,0.227],[2826.704,0.216],[2826.709,0.227],[2826.714,0.223],[2826.718,0.248],[2826.723,0.298],[2826.728,0.365],[2826.733,0.393],[2826.739,0.415],[2826.744,0.386],[2826.749,0.386],[2826.754,0.305],[2826.759,0.241],[2826.764,0.195],[2826.769,0.195],[2826.773,0.149],[2826.780,0.149],[2826.786,0.124],[2826.793,0.110],[2826.798,0.145],[2826.804,0.113],[2826.809,0.103],[2826.814,0.117],[2826.820,0.120],
  [2826.823,0.163],[2826.833,0.181],[2826.840,0.234],[2826.846,0.284],[2826.853,0.397],[2826.862,0.468],[2826.869,0.525],[2826.875,0.553],[2826.880,0.525],[2826.885,0.489],[2826.891,0.354],[2826.898,0.227],[2826.903,0.223],[2826.909,0.227],[2826.916,0.216],[2826.922,0.163],[2826.929,0.106],[2826.933,0.106],[2826.940,0.088],[2826.948,0.067],[2826.954,0.057],[2826.959,0.064],[2826.964,0.078],[2826.969,0.081],[2826.974,0.088],[2826.979,0.081],[2826.984,0.060],[2826.988,0.021],[2826.993,0.042],[2826.998,0.050],[2827.004,0.051],[2827.009,0.071],[2827.014,0.057],[2827.019,0.042],[2827.024,0.074],[2827.029,0.085],[2827.034,0.074],[2827.038,0.117],[2827.043,0.156],[2827.048,0.198],[2827.054,0.234],[2827.059,0.220],[2827.064,0.209],[2827.069,0.220],[2827.074,0.255],[2827.079,0.298],[2827.084,0.326],[2827.088,0.312],[2827.093,0.255],[2827.098,0.220],[2827.103,0.241],[2827.108,0.276],[2827.113,0.312],[2827.118,0.333],[2827.124,0.333],[2827.129,0.354],[2827.134,0.408],[2827.139,0.425],[2827.145,0.450],[2827.153,0.455],[2827.160,0.447],[2827.165,0.475],[2827.169,0.546],[2827.174,0.571],[2827.179,0.496],[2827.184,0.418],[2827.189,0.369],[2827.194,0.393],
  [2827.197,0.475],[2827.203,0.489],[2827.208,0.457],[2827.213,0.479],[2827.219,0.507],[2827.224,0.585],[2827.229,0.617],[2827.236,0.599],[2827.240,0.503],[2827.245,0.432],[2827.250,0.347],[2827.257,0.269],[2827.260,0.269],[2827.265,0.291],[2827.270,0.273],[2827.274,0.294],[2827.281,0.294],[2827.286,0.284],[2827.291,0.259],[2827.295,0.252],[2827.300,0.266],[2827.305,0.287],[2827.310,0.347],[2827.315,0.425],[2827.320,0.422],[2827.325,0.418],[2827.329,0.422],[2827.334,0.312],[2827.339,0.241],[2827.344,0.170],[2827.349,0.135],[2827.354,0.117],[2827.358,0.135],[2827.365,0.138],[2827.370,0.159],[2827.375,0.149],[2827.379,0.142],[2827.384,0.135],[2827.389,0.142],[2827.394,0.128],[2827.399,0.188],[2827.404,0.216],[2827.409,0.262],[2827.413,0.319],[2827.418,0.369],[2827.423,0.340],[2827.428,0.354],[2827.433,0.333],[2827.438,0.358],[2827.444,0.354],[2827.449,0.340],[2827.454,0.337],[2827.459,0.319],[2827.464,0.319],[2827.468,0.404],[2827.475,0.447],[2827.481,0.496],[2827.486,0.660],[2827.491,0.809],[2827.496,0.943],[2827.500,0.979],[2827.506,0.908],[2827.509,0.773],[2827.514,0.596],[2827.519,0.432],[2827.523,0.276],[2827.528,0.177],[2827.535,0.135],[2827.539,0.149],[2827.548,0.180],[2827.560,0.200],
];

// line-position markers (wavelength, lower end, style)
const markerWl = [2826.134, 2826.144, 2826.224, 2826.467, 2826.527, 2826.529, 2826.731, 2826.758, 2826.870, 2826.902, 2827.084, 2827.145, 2827.169, 2827.206, 2827.221, 2827.315, 2827.422, 2827.454, 2827.503];
const markerEnd = [0.482, 0.489, 0.429, 0.410, 0.620, 0.620, 0.429, 0.358, 0.603, 0.259, 0.347, 0.468, 0.589, 0.518, 0.631, 0.447, 0.379, 0.358, 0.993];
const markerDashDot = [true, false, false, false, true, false, false, true, false, true, false, false, false, true, false, false, false, true, false];

// ---------- layout ----------
const FONT = "'DejaVu Serif', serif";
const INK = "#000";
const CHART_W = 1900;
const PLOT_LEFT = 245.5;
const PLOT_RIGHT = 1833;
const PLOT_TOP = 46;
const PLOT_BOTTOM = 972;
const TICK_LEN = 19;
const TICK_W = 10;
const spine = { stroke: INK, strokeWidth: 11, strokeLinecap: "square" as const };

const toPoints = (pts: Pt[]) => pts.map(([x, y]) => ({ x, y }));

function BottomTick(props: any) {
  const { x, y, payload } = props;
  return (
    <g>
      <line x1={x} x2={x} y1={y} y2={y - TICK_LEN} stroke={INK} strokeWidth={TICK_W} />
      <text x={x} y={y + 65} textAnchor="middle" fontFamily={FONT} fontWeight="bold" fontSize={48} fill={INK}>
        {Number(payload.value).toFixed(1)}
      </text>
    </g>
  );
}

function TopTick(props: any) {
  const { x, y } = props;
  return <line x1={x} x2={x} y1={y} y2={y + TICK_LEN} stroke={INK} strokeWidth={TICK_W} />;
}

function LeftTick(props: any) {
  const { x, y, payload } = props;
  return (
    <g>
      <line x1={x} x2={x + TICK_LEN} y1={y} y2={y} stroke={INK} strokeWidth={TICK_W} />
      <text x={x - 25} y={y + 17} textAnchor="end" fontFamily={FONT} fontWeight="bold" fontSize={48} fill={INK}>
        {Number(payload.value).toFixed(1)}
      </text>
    </g>
  );
}

function RightTick(props: any) {
  const { x, y } = props;
  return <line x1={x} x2={x - TICK_LEN} y1={y} y2={y} stroke={INK} strokeWidth={TICK_W} />;
}

function AxisTitles() {
  const midX = (PLOT_LEFT + PLOT_RIGHT) / 2 - 1;
  const midY = (PLOT_TOP + PLOT_BOTTOM) / 2;
  return (
    <g fontFamily={FONT} fontWeight="bold" fill={INK}>
      <text x={midX} y={PLOT_BOTTOM + 158} textAnchor="middle" fontSize={64}>
        Wavelength / Å
      </text>
      <text x={95} y={midY} textAnchor="middle" fontSize={61} transform={`rotate(-90 95 ${midY})`}>
        Intensity (uncalib.)
      </text>
    </g>
  );
}

function TopNotes() {
  return (
    <g>
      <AxisTitles />
      <text x={278} y={172} fontFamily={FONT} fontWeight="bold" fontSize={51} fill={INK}>
        Plasma On
      </text>
    </g>
  );
}

function BottomNotes() {
  return (
    <g>
      <AxisTitles />
      <text x={803} y={448} fontFamily={FONT} fontWeight="bold" fontSize={42} fill={INK}>
        P<tspan dy={9} fontSize={30}>1</tspan>
        <tspan dy={-9}>(2)</tspan>
      </text>
    </g>
  );
}

function TopLegendContent(props: any) {
  const payload: any[] = props.payload ?? [];
  const colorOf = (name: string, i: number) => payload.find((p) => p.value === name)?.color ?? topColors[i];
  const rowsY = [110, 177.6, 243.5];
  return (
    <svg width={620} height={290} style={{ overflow: "visible" }}>
      <text x={117} y={60} fontFamily={FONT} fontWeight="bold" fontSize={51} fill={INK}>
        H<tspan dy={10} fontSize={36}>2</tspan>
        <tspan dy={-10}>O content</tspan>
      </text>
      {topSeriesNames.map((name, i) => {
        const col = Math.floor(i / 3);
        const y = rowsY[i % 3];
        const lx = col === 0 ? 12 : 348;
        const tx = col === 0 ? 144.5 : 480;
        return (
          <g key={name}>
            <line x1={lx} x2={lx + 96} y1={y} y2={y} stroke={colorOf(name, i)} strokeWidth={5.5} />
            <text x={tx} y={y + 16} fontFamily={FONT} fontWeight="bold" fontSize={41} fill={INK}>
              {name}
            </text>
          </g>
        );
      })}
    </svg>
  );
}

function BottomLegendContent() {
  return (
    <svg width={300} height={500} style={{ overflow: "visible" }}>
      <g fontFamily={FONT} fontWeight="bold" fill={INK}>
        <text x={42} y={65} fontSize={51}>Plasma</text>
        <line x1={25.5} x2={148} y1={128} y2={128} stroke={INK} strokeWidth={12} />
        <text x={174} y={148} fontSize={51}>On</text>
        <line x1={28} x2={150} y1={210} y2={210} stroke={INK} strokeWidth={12} strokeDasharray="12 19" />
        <text x={174} y={230} fontSize={51}>Off</text>
        <text x={21} y={335} fontSize={35}>
          H<tspan dy={7} fontSize={25}>2</tspan>
          <tspan dy={-7}>O content</tspan>
        </text>
        <rect x={40} y={366} width={96} height={35} fill={bottomColors.dry} />
        <text x={148} y={401} fontSize={40}>0.0 %</text>
        <rect x={40} y={432} width={96} height={36} fill={bottomColors.wet} />
        <text x={148} y={467} fontSize={40}>0.1 %</text>
      </g>
    </svg>
  );
}

function axes(domain: [number, number], ticks: number[]) {
  return [
    <XAxis key="xb" xAxisId="b" type="number" dataKey="x" domain={domain} ticks={ticks} allowDataOverflow interval={0} height={1} tickSize={0} tickMargin={0} axisLine={spine} tickLine={false} tick={<BottomTick />} />,
    <XAxis key="xt" xAxisId="t" orientation="top" type="number" dataKey="x" domain={domain} ticks={ticks} allowDataOverflow interval={0} height={1} tickSize={0} tickMargin={0} axisLine={spine} tickLine={false} tick={<TopTick />} />,
    <YAxis key="yl" yAxisId="l" type="number" domain={Y_DOMAIN} ticks={intensityTicks} allowDataOverflow interval={0} width={1} tickSize={0} tickMargin={0} axisLine={spine} tickLine={false} tick={<LeftTick />} />,
    <YAxis key="yr" yAxisId="r" orientation="right" type="number" domain={Y_DOMAIN} ticks={intensityTicks} allowDataOverflow interval={0} width={1} tickSize={0} tickMargin={0} axisLine={spine} tickLine={false} tick={<RightTick />} />,
  ];
}

const TOP_H = 1150;
const BOTTOM_H = 1138;

export default function App() {
  const topMargin = { top: PLOT_TOP - 1, left: PLOT_LEFT - 1, right: CHART_W - PLOT_RIGHT - 1, bottom: TOP_H - PLOT_BOTTOM - 1 };
  const bottomMargin = { ...topMargin, bottom: BOTTOM_H - PLOT_BOTTOM - 1 };
  return (
    <div style={{ position: "absolute", left: 0, top: 0, width: 1826, height: 2257, overflow: "hidden", background: "#fff" }}>
      <div style={{ position: "absolute", left: 0, top: 0 }}>
        <LineChart width={CHART_W} height={TOP_H} margin={topMargin}>
          {axes(TOP_DOMAIN, topWlTicks)}
          {topSeries.map((pts, i) => (
            <Line
              key={topSeriesNames[i]}
              name={topSeriesNames[i]}
              data={toPoints(pts)}
              xAxisId="b"
              yAxisId="l"
              dataKey="y"
              type="linear"
              stroke={topColors[i]}
              strokeWidth={5}
              strokeLinejoin="round"
              dot={false}
              activeDot={false}
              isAnimationActive={false}
            />
          ))}
          <Legend
            content={<TopLegendContent />}
            layout="vertical"
            align="center"
            verticalAlign="middle"
            wrapperStyle={{ left: 820, top: 110, width: 620, height: 290 }}
          />
          <Customized component={TopNotes} />
        </LineChart>
      </div>
      <div style={{ position: "absolute", left: 0, top: 1119 }}>
        <LineChart width={CHART_W} height={BOTTOM_H} margin={bottomMargin}>
          {axes(BOTTOM_DOMAIN, bottomWlTicks)}
          {markerWl.map((wl, i) => (
            <ReferenceLine
              key={`m${i}`}
              xAxisId="b"
              yAxisId="l"
              segment={[{ x: wl, y: Y_DOMAIN[1] }, { x: wl, y: markerEnd[i] }]}
              stroke="#8a8a8a"
              strokeWidth={1.6}
              strokeDasharray={markerDashDot[i] ? "9.6 2.4 1.6 2.4" : "5.5 2.4"}
              ifOverflow="visible"
            />
          ))}
          <Line name="0.0 % off" data={toPoints(offDry)} xAxisId="b" yAxisId="l" dataKey="y" type="linear" stroke={bottomColors.dry} strokeWidth={2.6} strokeDasharray="2.6 4" dot={false} activeDot={false} isAnimationActive={false} />
          <Line name="0.0 % on" data={toPoints(onDry)} xAxisId="b" yAxisId="l" dataKey="y" type="linear" stroke={bottomColors.dry} strokeWidth={2.8} strokeLinejoin="round" dot={false} activeDot={false} isAnimationActive={false} />
          <Line name="0.1 % off" data={toPoints(offWet)} xAxisId="b" yAxisId="l" dataKey="y" type="linear" stroke={bottomColors.wet} strokeWidth={6.5} strokeDasharray="7 8" dot={false} activeDot={false} isAnimationActive={false} />
          <Line name="0.1 % on" data={toPoints(onWet)} xAxisId="b" yAxisId="l" dataKey="y" type="linear" stroke={bottomColors.wet} strokeWidth={7} strokeLinejoin="round" dot={false} activeDot={false} isAnimationActive={false} />
          <Legend
            content={<BottomLegendContent />}
            layout="vertical"
            align="center"
            verticalAlign="middle"
            wrapperStyle={{ left: 420, top: 40, width: 300, height: 500 }}
          />
          <Customized component={BottomNotes} />
        </LineChart>
      </div>
    </div>
  );
}
